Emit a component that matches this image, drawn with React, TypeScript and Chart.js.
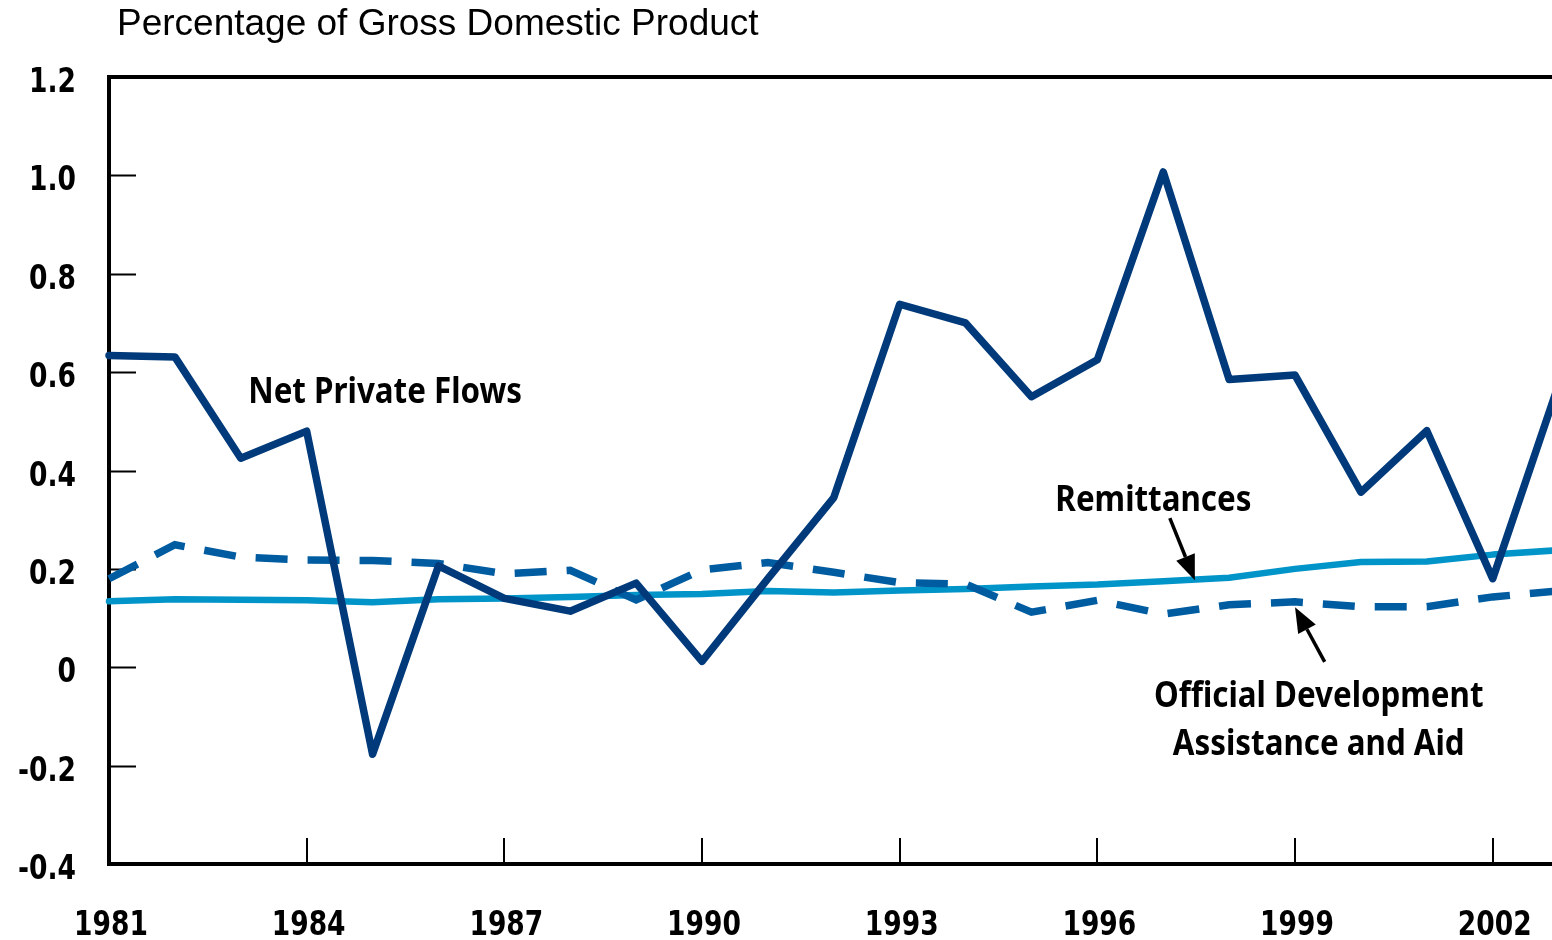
import React, { useEffect, useRef } from "react";
import { Chart, registerables } from "chart.js";

Chart.register(...registerables);

// ---- Data ----
const years = [
  1981, 1982, 1983, 1984, 1985, 1986, 1987, 1988, 1989, 1990, 1991, 1992,
  1993, 1994, 1995, 1996, 1997, 1998, 1999, 2000, 2001, 2002, 2003,
];
const netPrivateFlows = [
  0.634, 0.631, 0.425, 0.48, -0.177, 0.206, 0.14, 0.114, 0.171, 0.012, 0.18,
  0.345, 0.738, 0.7, 0.55, 0.625, 1.007, 0.585, 0.594, 0.356, 0.481, 0.18,
  0.575,
];
const remittances = [
  0.134, 0.138, 0.137, 0.136, 0.132, 0.138, 0.14, 0.143, 0.147, 0.149, 0.155,
  0.152, 0.156, 0.159, 0.164, 0.168, 0.175, 0.182, 0.2, 0.214, 0.215, 0.229,
  0.238,
];
const officialAid = [
  0.18, 0.249, 0.224, 0.218, 0.217, 0.211, 0.19, 0.197, 0.137, 0.198, 0.213,
  0.193, 0.172, 0.169, 0.112, 0.136, 0.108, 0.127, 0.133, 0.123, 0.123, 0.143,
  0.155,
];
const xTickValues = [1981, 1984, 1987, 1990, 1993, 1996, 1999, 2002];
const xTickLabels = ["1981", "1984", "1987", "1990", "1993", "1996", "1999", "2002"];
const yTickValues = [-0.4, -0.2, 0, 0.2, 0.4, 0.6, 0.8, 1.0, 1.2];
const yTickLabels = ["-0.4", "-0.2", "0", "0.2", "0.4", "0.6", "0.8", "1.0", "1.2"];
const axisTitle = "Percentage of Gross Domestic Product";
const seriesLabels = ["Net Private Flows", "Remittances", "Official Development Assistance and Aid"];

// annotation placement (data coordinates)
const textLabels = [
  { lines: ["Net Private Flows"], x: 1985.19, y: 0.537 },
  { lines: ["Remittances"], x: 1996.85, y: 0.3175 },
  { lines: ["Official Development", "Assistance and Aid"], x: 1999.36, y: -0.081 },
];
const arrows = [
  { from: [1997.1, 0.303], to: [1997.48, 0.177] },
  { from: [1999.45, 0.011], to: [1999.0, 0.122] },
];

const X_MIN = 1981;
const X_MAX = 2002.9;
const Y_MIN = -0.4;
const Y_MAX = 1.2;

const NAVY = "#003a7a";
const LIGHT = "#0094c9";
const MID = "#005ca1";

function scaledText(
  ctx: CanvasRenderingContext2D,
  text: string,
  x: number,
  y: number,
  font: string,
  sx: number,
  align: CanvasTextAlign
) {
  ctx.save();
  ctx.font = font;
  ctx.textAlign = align;
  ctx.textBaseline = "alphabetic";
  ctx.fillStyle = "#000";
  ctx.translate(x, y);
  ctx.scale(sx, 1);
  ctx.fillText(text, 0, 0);
  ctx.restore();
}

const framePlugin = {
  id: "frame",
  beforeDatasetsDraw(chart: any) {
    const { ctx, chartArea } = chart;
    const xs = chart.scales.x;
    const ys = chart.scales.y;
    const { left, top, right, bottom } = chartArea;
    ctx.save();
    ctx.strokeStyle = "#000";
    ctx.lineJoin = "miter";
    ctx.lineWidth = 4;
    ctx.beginPath();
    ctx.moveTo(right + 5, top);
    ctx.lineTo(left, top);
    ctx.lineTo(left, bottom);
    ctx.lineTo(right + 5, bottom);
    ctx.stroke();
    ctx.lineWidth = 2;
    ctx.beginPath();
    yTickValues.forEach((v) => {
      const py = Math.round(ys.getPixelForValue(v)) + 0.5;
      ctx.moveTo(left, py);
      ctx.lineTo(left + 27, py);
    });
    xTickValues.forEach((v) => {
      const px = Math.round(xs.getPixelForValue(v));
      ctx.moveTo(px, bottom);
      ctx.lineTo(px, bottom - 26);
    });
    ctx.stroke();
    ctx.restore();

    const tickFont = "bold 34px 'DejaVu Sans'";
    yTickValues.forEach((v, i) => {
      const py = ys.getPixelForValue(v);
      scaledText(ctx, yTickLabels[i], left - 33, py + 15, tickFont, 0.78, "right");
    });
    xTickValues.forEach((v, i) => {
      const px = xs.getPixelForValue(v);
      scaledText(ctx, xTickLabels[i], px + 2, bottom + 71, tickFont, 0.78, "center");
    });
    scaledText(ctx, axisTitle, left + 8, top - 42, "37px 'Liberation Sans'", 1.0, "left");
  },
  afterDatasetsDraw(chart: any) {
    const { ctx } = chart;
    const xs = chart.scales.x;
    const ys = chart.scales.y;
    const labFont = "bold 36px 'Noto Sans'";
    textLabels.forEach((l) => {
      const px = xs.getPixelForValue(l.x);
      const py = ys.getPixelForValue(l.y);
      l.lines.forEach((line, i) => {
        scaledText(ctx, line, px, py + i * 48, labFont, 0.87, "center");
      });
    });
    arrows.forEach((a) => {
      const x1 = xs.getPixelForValue(a.from[0]);
      const y1 = ys.getPixelForValue(a.from[1]);
      const x2 = xs.getPixelForValue(a.to[0]);
      const y2 = ys.getPixelForValue(a.to[1]);
      const ang = Math.atan2(y2 - y1, x2 - x1);
      const headLen = 25;
      const headHalf = 10;
      const bx = x2 - headLen * Math.cos(ang);
      const by = y2 - headLen * Math.sin(ang);
      ctx.save();
      ctx.strokeStyle = "#000";
      ctx.fillStyle = "#000";
      ctx.lineWidth = 3.5;
      ctx.beginPath();
      ctx.moveTo(x1, y1);
      ctx.lineTo(bx, by);
      ctx.stroke();
      ctx.beginPath();
      ctx.moveTo(x2, y2);
      ctx.lineTo(bx + headHalf * Math.sin(ang), by - headHalf * Math.cos(ang));
      ctx.lineTo(bx - headHalf * Math.sin(ang), by + headHalf * Math.cos(ang));
      ctx.closePath();
      ctx.fill();
      ctx.restore();
    });
  },
};

export default function App() {
  const canvasRef = useRef<HTMLCanvasElement | null>(null);

  useEffect(() => {
    document.body.style.margin = "0";
    const canvas = canvasRef.current;
    if (!canvas) return;
    const toPoints = (vals: number[]) => years.map((yr, i) => ({ x: yr, y: vals[i] }));
    const chart = new Chart(canvas, {
      type: "line",
      data: {
        datasets: [
          {
            label: seriesLabels[0],
            data: toPoints(netPrivateFlows),
            borderColor: NAVY,
            borderWidth: 7.5,
            borderJoinStyle: "round",
            borderCapStyle: "round",
            pointRadius: 0,
            tension: 0,
            clip: false as any,
            order: 0,
          },
          {
            label: seriesLabels[2],
            data: toPoints(officialAid),
            borderColor: MID,
            borderWidth: 7.5,
            borderDash: [32, 20],
            borderJoinStyle: "miter",
            borderCapStyle: "butt",
            pointRadius: 0,
            tension: 0,
            clip: false as any,
            order: 1,
          },
          {
            label: seriesLabels[1],
            data: toPoints(remittances),
            borderColor: LIGHT,
            borderWidth: 6.5,
            borderJoinStyle: "round",
            borderCapStyle: "round",
            pointRadius: 0,
            tension: 0,
            clip: false as any,
            order: 2,
          },
        ],
      },
      options: {
        responsive: false,
        animation: false,
        layout: { padding: { left: 109, top: 77, right: 0, bottom: 76 } },
        scales: {
          x: { type: "linear", min: X_MIN, max: X_MAX, display: false },
          y: { type: "linear", min: Y_MIN, max: Y_MAX, display: false },
        },
        plugins: {
          legend: { display: false },
          tooltip: { enabled: false },
        },
      },
      plugins: [framePlugin],
    });
    return () => chart.destroy();
  }, []);

  return (
    <div style={{ width: 1552, height: 940, background: "#fff" }}>
      <canvas ref={canvasRef} width={1552} height={940} style={{ display: "block" }} />
    </div>
  );
}
